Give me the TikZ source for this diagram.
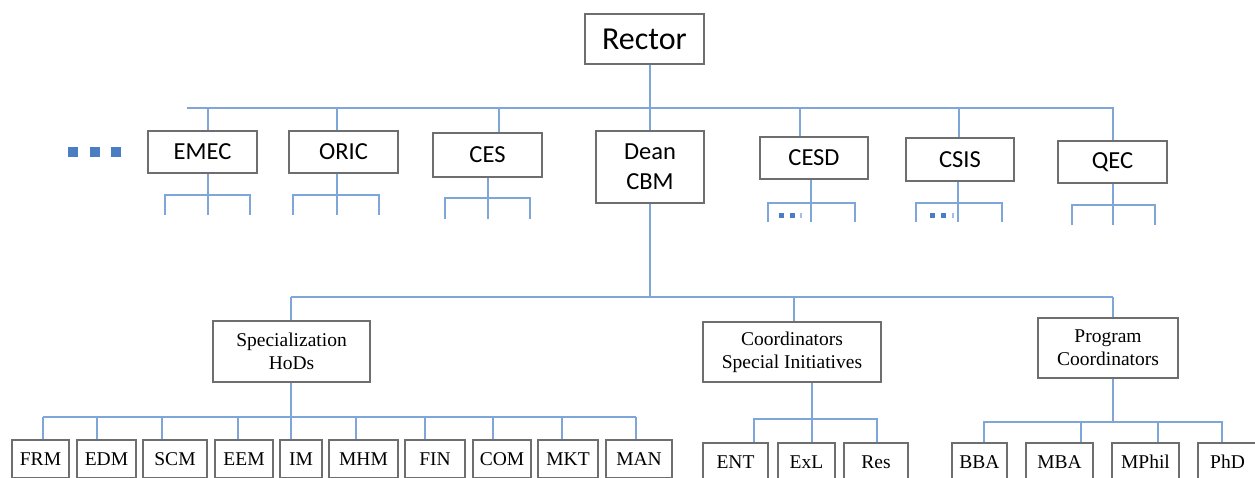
\documentclass[tikz,border=0pt]{standalone}
\usepackage{fontspec}
\setmainfont{Liberation Serif}
\newfontfamily\calfont{Carlito}
\definecolor{linkblue}{HTML}{7FA6D8}
\definecolor{dotblue}{HTML}{4A7DC1}
\definecolor{boxgray}{HTML}{6E6E6E}
\tikzset{
  box/.style={draw=boxgray, line width=1.3pt, inner sep=0pt, align=center, fill=white},
  topbox/.style={box, font=\calfont\fontsize{24.5}{30}\selectfont},
  lowbox/.style={box, font=\fontsize{19.5}{23}\selectfont},
  conn/.style={draw=linkblue, line width=2pt},
}
\newcommand\subfork[6]{%
  \coordinate (#1-fk) at (#2,#5);
  \draw[conn] (#2,0 |- #1.south) -- (#1-fk);
  \draw[conn] (#3,#6) -- (#3,#5) -- (#4,#5) -- (#4,#6);
  \draw[conn] (#1-fk) -- (#2,#6);}
\begin{document}
\begin{tikzpicture}[x=1pt,y=-1pt]
\useasboundingbox (0,0) rectangle (1255,477);
\clip (0,0) rectangle (1255,477);
% top
\node[topbox, font=\calfont\fontsize{32}{36}\selectfont, minimum width=119, minimum height=50] (rector) at (644.5,39) {Rector};
\node[topbox, minimum width=109, minimum height=42] (emec) at (202.5,152) {EMEC};
\node[topbox, minimum width=109, minimum height=42] (oric) at (343.5,152) {ORIC};
\node[topbox, minimum width=109, minimum height=44] (ces) at (487.5,155) {CES};
\node[topbox, minimum width=108, minimum height=72] (dean) at (650,167) {Dean\\CBM};
\node[topbox, minimum width=108, minimum height=42] (cesd) at (814,158) {CESD};
\node[topbox, minimum width=108, minimum height=43] (csis) at (960,159.5) {CSIS};
\node[topbox, minimum width=109, minimum height=42] (qec) at (1112.5,162) {QEC};
% top bus
\coordinate (busL) at (187,108);
\coordinate (busR) at (1113,108);
\draw[conn] (rector.south -| dean.north) -- (dean.north);
\draw[conn] (busL) -- (busR) -- (busR |- qec.north);
\foreach \n/\x in {emec/208, oric/337, ces/499, cesd/800, csis/959}
  \draw[conn] (\x,108) -- (\x,0 |- \n.north);
% dots
\foreach \x in {68,90,111} \fill[dotblue] (\x,147) rectangle ++(10,10);
% sub forks
\subfork{emec}{208}{165}{250}{195}{215}
\subfork{oric}{337}{293}{379}{195}{215}
\subfork{ces}{488}{445}{530}{198}{219}
\subfork{cesd}{811}{768}{855}{203}{222}
\subfork{csis}{958}{916}{1002}{203}{222}
\subfork{qec}{1113}{1072}{1155}{205}{225}
\foreach \x in {779,790} \fill[dotblue] (\x,213) rectangle ++(5,5);
\fill[dotblue!50] (800,213) rectangle ++(1.5,5);
\foreach \x in {930,941} \fill[dotblue] (\x,213) rectangle ++(5,5);
\fill[dotblue!50] (952,213) rectangle ++(1.5,5);
% third level
\node[lowbox, minimum width=157, minimum height=61] (spec) at (291.5,351.5) {Specialization\\HoDs};
\node[lowbox, minimum width=178, minimum height=60] (coord) at (792,352) {Coordinators\\Special Initiatives};
\node[lowbox, minimum width=140, minimum height=60] (prog) at (1108,348) {Program\\Coordinators};
\coordinate (deanbus) at (650,297);
\draw[conn] (dean.south) -- (deanbus);
\draw[conn] (291,297) -- (1113,297);
\foreach \n/\x in {spec/291, coord/794, prog/1113}
  \draw[conn] (\x,297) -- (\x,0 |- \n.north);
% bottom row: specialization
\foreach \n/\l/\r/\t in {frm/12/69/FRM, edm/77/136/EDM, scm/143/207/SCM, eem/215/273/EEM, im/280/322/IM, mhm/329/398/MHM, fin/405/465/FIN, com/473/531/COM, mkt/538/598/MKT, man/606/672/MAN}
  \node[lowbox, minimum width={\r-\l}, minimum height=38] (\n) at ({(\l+\r)/2},459) {\t};
\draw[conn] (43,417) -- (636,417);
\draw[conn] (291,0 |- spec.south) -- (291,0 |- im.north);
\foreach \n/\x in {frm/43, edm/97, scm/162, eem/238, mhm/356, fin/425, com/493, mkt/562, man/636}
  \draw[conn] (\x,417) -- (\x,0 |- \n.north);
% bottom row: coordinators
\foreach \n/\l/\r/\t in {ent/703/768/ENT, exl/778/835/ExL, res/844/908/Res}
  \node[lowbox, minimum width={\r-\l}, minimum height=38] (\n) at ({(\l+\r)/2},462) {\t};
\draw[conn] (812,0 |- coord.south) -- (812,0 |- exl.north);
\draw[conn] (754,0 |- ent.north) -- (754,419) -- (877,419) -- (877,0 |- res.north);
% bottom row: programs
\foreach \n/\l/\r/\t in {bba/952/1007/BBA, mba/1026/1093/MBA, mphil/1112/1179/MPhil, phd/1198/1257/PhD}
  \node[lowbox, minimum width={\r-\l}, minimum height=38] (\n) at ({(\l+\r)/2},462) {\t};
\draw[conn] (1113,0 |- prog.south) -- (1113,422);
\draw[conn] (984,0 |- bba.north) -- (984,422) -- (1222,422) -- (1222,0 |- phd.north);
\foreach \n/\x in {mba/1081, mphil/1158}
  \draw[conn] (\x,422) -- (\x,0 |- \n.north);
\end{tikzpicture}
\end{document}
